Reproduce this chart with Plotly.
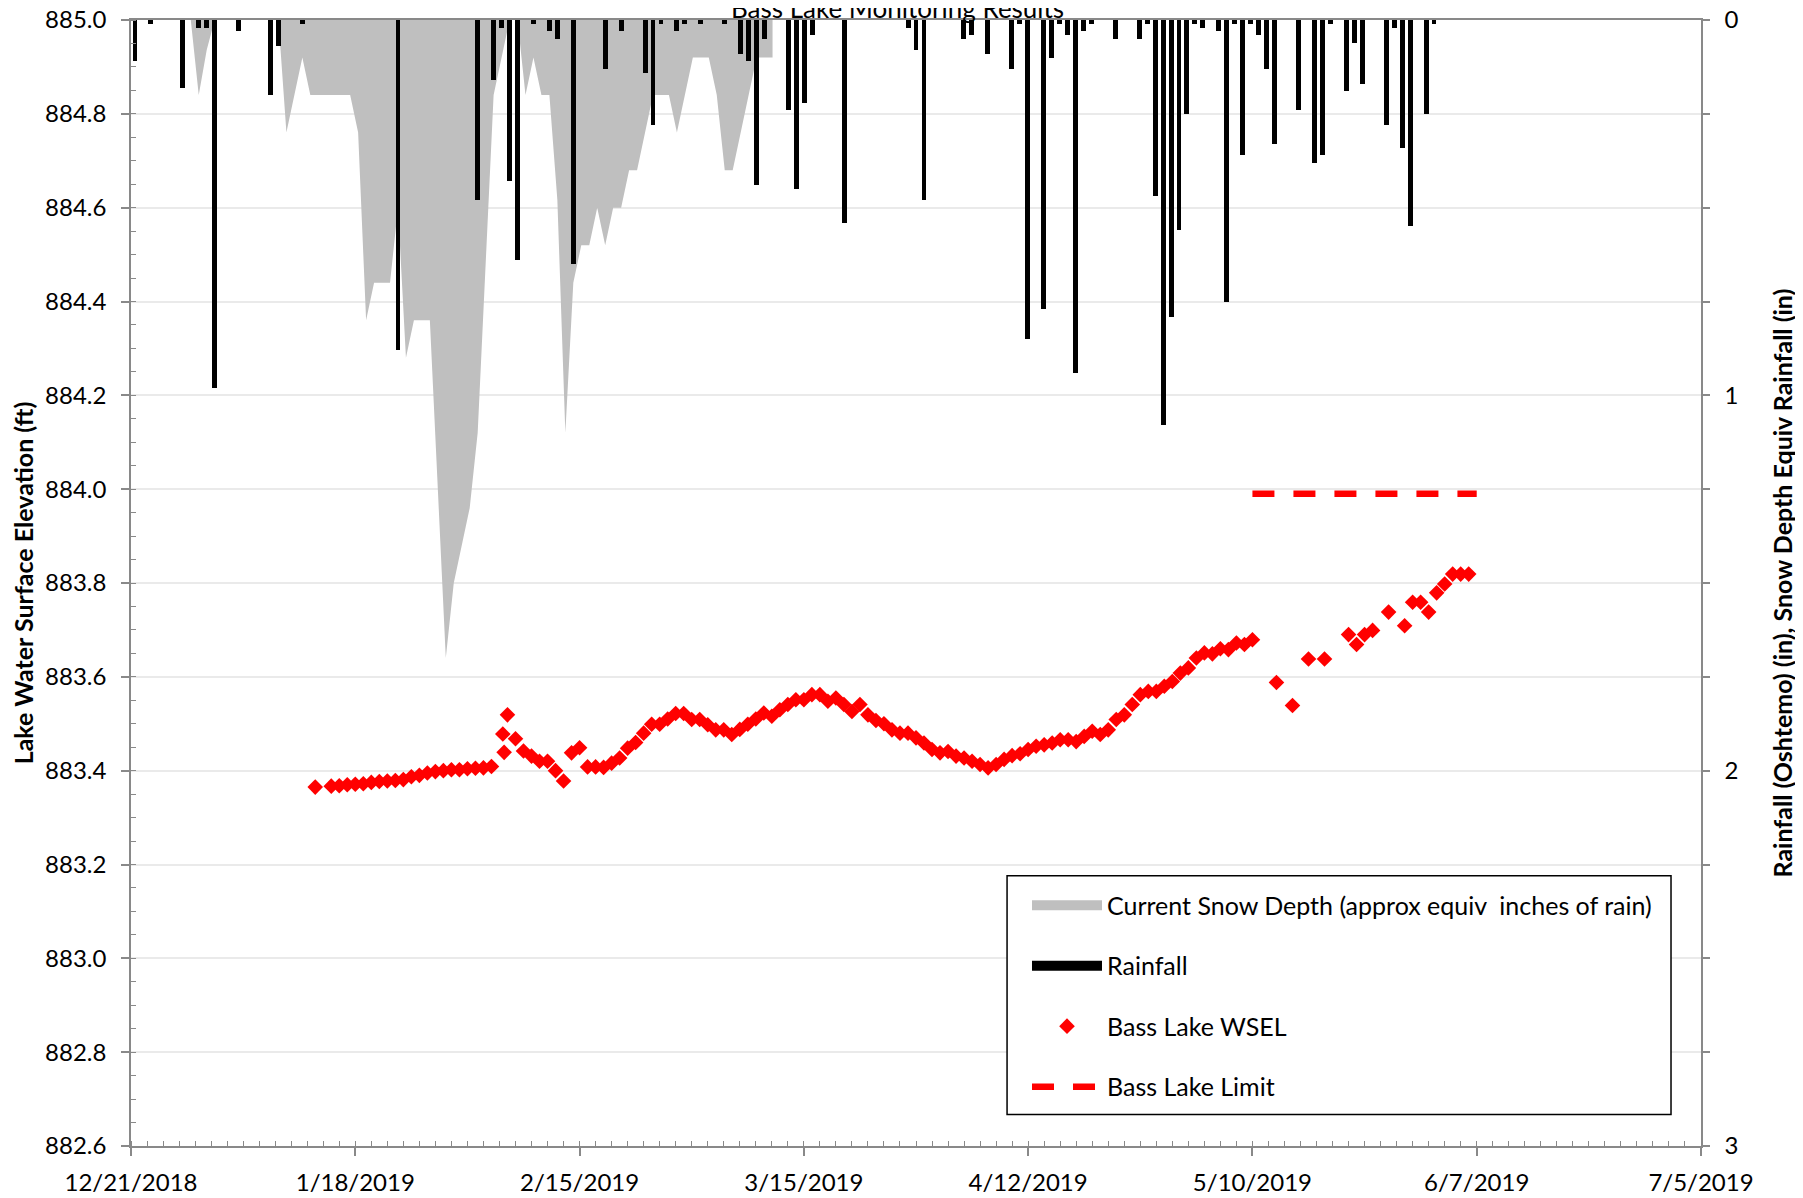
import plotly.graph_objects as go

FONT = "Lato"
AXIS_GREY = "#898989"

# Bass Lake water surface elevation (ft)
wsel_dates = [
    "2019-01-13", "2019-01-15", "2019-01-16", "2019-01-17", "2019-01-18", "2019-01-19", "2019-01-20", "2019-01-21",
    "2019-01-22", "2019-01-23", "2019-01-24", "2019-01-25", "2019-01-26", "2019-01-27", "2019-01-28", "2019-01-29",
    "2019-01-30", "2019-01-31", "2019-02-01", "2019-02-02", "2019-02-03", "2019-02-04",
    "2019-02-05 10:00", "2019-02-05 14:00", "2019-02-06", "2019-02-07",
    "2019-02-08", "2019-02-09", "2019-02-10", "2019-02-11", "2019-02-12", "2019-02-13", "2019-02-14", "2019-02-15",
    "2019-02-16", "2019-02-17", "2019-02-18", "2019-02-19", "2019-02-20", "2019-02-21", "2019-02-22", "2019-02-23",
    "2019-02-24", "2019-02-25", "2019-02-26", "2019-02-27", "2019-02-28",
    "2019-03-01", "2019-03-02", "2019-03-03", "2019-03-04", "2019-03-05", "2019-03-06", "2019-03-07", "2019-03-08",
    "2019-03-09", "2019-03-10", "2019-03-11", "2019-03-12", "2019-03-13", "2019-03-14", "2019-03-15", "2019-03-16",
    "2019-03-17", "2019-03-18", "2019-03-19", "2019-03-20", "2019-03-21", "2019-03-22", "2019-03-23", "2019-03-24",
    "2019-03-25", "2019-03-26", "2019-03-27", "2019-03-28", "2019-03-29", "2019-03-30", "2019-03-31",
    "2019-04-01", "2019-04-02", "2019-04-03", "2019-04-04", "2019-04-05", "2019-04-06", "2019-04-07", "2019-04-08",
    "2019-04-09", "2019-04-10", "2019-04-11", "2019-04-12", "2019-04-13", "2019-04-14", "2019-04-15", "2019-04-16",
    "2019-04-17", "2019-04-18", "2019-04-19", "2019-04-20", "2019-04-21", "2019-04-22", "2019-04-23", "2019-04-24",
    "2019-04-25", "2019-04-26", "2019-04-27", "2019-04-28", "2019-04-29", "2019-04-30",
    "2019-05-01", "2019-05-02", "2019-05-03", "2019-05-04", "2019-05-05", "2019-05-06", "2019-05-07", "2019-05-08",
    "2019-05-09", "2019-05-10", "2019-05-13", "2019-05-15", "2019-05-17", "2019-05-19", "2019-05-22", "2019-05-23",
    "2019-05-24", "2019-05-25", "2019-05-27", "2019-05-29", "2019-05-30", "2019-05-31", "2019-06-01", "2019-06-02",
    "2019-06-03", "2019-06-04", "2019-06-05", "2019-06-06",
]
wsel_elev = [
    883.365, 883.367, 883.368, 883.370, 883.371, 883.372, 883.375, 883.377,
    883.378, 883.379, 883.381, 883.387, 883.390, 883.395, 883.398, 883.400,
    883.402, 883.402, 883.404, 883.405, 883.406, 883.409,
    883.478, 883.439, 883.519, 883.468,
    883.442, 883.431, 883.420, 883.420, 883.400, 883.378, 883.438, 883.449,
    883.408, 883.408, 883.407, 883.416, 883.427, 883.448, 883.460, 883.480,
    883.499, 883.499, 883.510, 883.522, 883.522,
    883.509, 883.509, 883.498, 883.487, 883.487, 883.477, 883.488, 883.499,
    883.510, 883.523, 883.516, 883.530, 883.541, 883.551, 883.551, 883.562,
    883.562, 883.548, 883.555, 883.541, 883.526, 883.541, 883.519, 883.507,
    883.500, 883.487, 883.480, 883.480, 883.470, 883.459, 883.445,
    883.438, 883.441, 883.431, 883.427, 883.420, 883.413, 883.406, 883.413,
    883.424, 883.432, 883.436, 883.445, 883.452, 883.455, 883.459, 883.466,
    883.466, 883.462, 883.473, 883.484, 883.477, 883.487, 883.509, 883.519,
    883.541, 883.562, 883.569, 883.569, 883.580, 883.590,
    883.608, 883.619, 883.640, 883.651, 883.649, 883.660, 883.658, 883.672,
    883.669, 883.679, 883.588, 883.539, 883.638, 883.638, 883.690, 883.669,
    883.690, 883.699, 883.738, 883.709, 883.759, 883.759, 883.738, 883.779,
    883.798, 883.819, 883.819, 883.819,
]

# daily rainfall, Oshtemo (in)
rain_dates = [
    "2018-12-21", "2018-12-23", "2018-12-27", "2018-12-29", "2018-12-30", "2018-12-31", "2019-01-03", "2019-01-07",
    "2019-01-08", "2019-01-11", "2019-01-23", "2019-02-02", "2019-02-04", "2019-02-05", "2019-02-06", "2019-02-07",
    "2019-02-09", "2019-02-11", "2019-02-12", "2019-02-14", "2019-02-18", "2019-02-20", "2019-02-23", "2019-02-24",
    "2019-02-25", "2019-02-27", "2019-02-28", "2019-03-02", "2019-03-05", "2019-03-07", "2019-03-08", "2019-03-09",
    "2019-03-10", "2019-03-13", "2019-03-14", "2019-03-15", "2019-03-16", "2019-03-20", "2019-03-28", "2019-03-29",
    "2019-03-30", "2019-04-04", "2019-04-05", "2019-04-07", "2019-04-10", "2019-04-11", "2019-04-12", "2019-04-14",
    "2019-04-15", "2019-04-16", "2019-04-17", "2019-04-18", "2019-04-19", "2019-04-20", "2019-04-23", "2019-04-26",
    "2019-04-27", "2019-04-28", "2019-04-29", "2019-04-30", "2019-05-01", "2019-05-02", "2019-05-03", "2019-05-04",
    "2019-05-06", "2019-05-07", "2019-05-08", "2019-05-09", "2019-05-10", "2019-05-11", "2019-05-12", "2019-05-13",
    "2019-05-16", "2019-05-18", "2019-05-19", "2019-05-20", "2019-05-22", "2019-05-23", "2019-05-24", "2019-05-27",
    "2019-05-28", "2019-05-29", "2019-05-30", "2019-06-01", "2019-06-02",
]
rain_in = [
    0.11, 0.01, 0.18, 0.02, 0.02, 0.98, 0.03, 0.20,
    0.07, 0.01, 0.88, 0.48, 0.16, 0.02, 0.43, 0.64,
    0.01, 0.03, 0.05, 0.65, 0.13, 0.03, 0.14, 0.28,
    0.01, 0.03, 0.01, 0.01, 0.01, 0.09, 0.11, 0.44,
    0.05, 0.24, 0.45, 0.22, 0.04, 0.54, 0.02, 0.08,
    0.48, 0.05, 0.04, 0.09, 0.13, 0.01, 0.85, 0.77,
    0.10, 0.01, 0.04, 0.94, 0.03, 0.01, 0.05, 0.05,
    0.01, 0.47, 1.08, 0.79, 0.56, 0.25, 0.01, 0.02,
    0.03, 0.75, 0.01, 0.36, 0.01, 0.04, 0.13, 0.33,
    0.24, 0.38, 0.36, 0.01, 0.19, 0.06, 0.17, 0.28,
    0.02, 0.34, 0.55, 0.25, 0.01,
]

# snow depth as equivalent rain (in)
snow_dates = [
    "2018-12-28", "2018-12-29", "2018-12-30", "2018-12-31", "2019-01-08", "2019-01-09", "2019-01-11", "2019-01-12",
    "2019-01-17", "2019-01-18", "2019-01-19", "2019-01-20", "2019-01-22", "2019-01-23", "2019-01-24", "2019-01-25",
    "2019-01-27", "2019-01-28", "2019-01-29", "2019-01-30", "2019-02-01", "2019-02-02", "2019-02-04", "2019-02-05",
    "2019-02-06", "2019-02-07", "2019-02-08", "2019-02-09", "2019-02-10", "2019-02-11", "2019-02-12", "2019-02-13",
    "2019-02-14", "2019-02-15", "2019-02-16", "2019-02-17", "2019-02-18", "2019-02-19", "2019-02-20", "2019-02-21",
    "2019-02-22", "2019-02-24", "2019-02-26", "2019-02-27", "2019-03-01", "2019-03-03", "2019-03-04", "2019-03-05",
    "2019-03-06", "2019-03-09", "2019-03-11",
]
snow_in = [
    0, 0.20, 0.08, 0, 0, 0.30, 0.10, 0.20,
    0.20, 0.30, 0.80, 0.70, 0.70, 0.50, 0.90, 0.80,
    0.80, 1.25, 1.70, 1.50, 1.30, 1.10, 0.20, 0.10,
    0, 0, 0.20, 0.10, 0.20, 0.20, 0.48, 1.10,
    0.70, 0.60, 0.60, 0.50, 0.60, 0.50, 0.50, 0.40,
    0.40, 0.20, 0.20, 0.30, 0.10, 0.10, 0.20, 0.40,
    0.40, 0.10, 0.10,
]

limit_dates = ["2019-05-10", "2019-06-07"]
limit_elev = [883.99, 883.99]

x_ticks = ["2018-12-21", "2019-01-18", "2019-02-15", "2019-03-15",
           "2019-04-12", "2019-05-10", "2019-06-07", "2019-07-05"]
x_tick_labels = ["12/21/2018", "1/18/2019", "2/15/2019", "3/15/2019",
                 "4/12/2019", "5/10/2019", "6/7/2019", "7/5/2019"]

DAY_MS = 24 * 3600 * 1000
SLOT_RANGE = ["2018-12-20 12:00", "2019-07-05 12:00"]

fig = go.Figure()

# snow (x2/y2) and rain (x3/y3) sit on day-slot axes like the Excel column axis;
# separate overlays keep the bars drawn above the snow area
fig.add_trace(go.Scatter(
    x=snow_dates, y=snow_in, xaxis="x2", yaxis="y2",
    mode="lines", line=dict(width=0, color="#BFBFBF"),
    fill="tozeroy", fillcolor="#BFBFBF", showlegend=False, hoverinfo="skip",
    legendgroup="snow",
))
fig.add_trace(go.Bar(
    x=rain_dates, y=rain_in, xaxis="x3", yaxis="y3",
    width=0.62 * DAY_MS, marker=dict(color="black", line=dict(width=0)),
    showlegend=False, legendgroup="rain",
))

# legend proxies for the area and bars
fig.add_trace(go.Scatter(
    x=[None], y=[None], mode="lines", line=dict(color="#BFBFBF", width=14),
    name="Current Snow Depth (approx equiv  inches of rain)", legendgroup="snow",
))
fig.add_trace(go.Scatter(
    x=[None], y=[None], mode="lines", line=dict(color="black", width=14),
    name="Rainfall", legendgroup="rain",
))

fig.add_trace(go.Scatter(
    x=wsel_dates, y=wsel_elev, mode="markers",
    marker=dict(symbol="diamond", size=12, color="#FF0000", line=dict(width=0)),
    name="Bass Lake WSEL", legendgroup="wsel",
))
fig.add_trace(go.Scatter(
    x=limit_dates, y=limit_elev, mode="lines",
    line=dict(color="#FF0000", width=6.5, dash="22px,19px"),
    name="Bass Lake Limit", legendgroup="limit",
))

fig.update_layout(
    width=1803,
    height=1198,
    margin=dict(l=123, r=110, t=12, b=59.5),
    paper_bgcolor="white",
    plot_bgcolor="white",
    font=dict(family=FONT, size=24, color="black"),
    xaxis=dict(
        type="date",
        range=["2018-12-21", "2019-07-05"],
        tickvals=x_ticks,
        ticktext=x_tick_labels,
        ticks="outside", ticklen=8, tickwidth=1.5, tickcolor=AXIS_GREY,
        showline=True, linecolor=AXIS_GREY, linewidth=1.5, mirror=True,
        showgrid=False, zeroline=False,
        minor=dict(tick0="2018-12-21", dtick=2 * DAY_MS, ticks="inside", ticklen=5,
                   tickwidth=1, tickcolor=AXIS_GREY, showgrid=False),
        tickfont=dict(size=24),
        ticklabelstandoff=6,
        ticklabeloverflow="allow",
        automargin=False,
    ),
    xaxis2=dict(type="date", overlaying="x", anchor="y2", range=SLOT_RANGE, visible=False),
    xaxis3=dict(type="date", overlaying="x", anchor="y3", range=SLOT_RANGE, visible=False),
    yaxis=dict(
        range=[882.6, 885.0],
        tick0=882.6, dtick=0.2, tickformat=".1f",
        ticks="outside", ticklen=8, tickwidth=1.5, tickcolor=AXIS_GREY,
        showline=True, linecolor=AXIS_GREY, linewidth=1.5,
        gridcolor="#EAEAEA", gridwidth=1.5, zeroline=False,
        minor=dict(dtick=0.05, ticks="inside", ticklen=5, tickwidth=1, tickcolor=AXIS_GREY, showgrid=False),
        tickfont=dict(size=24),
        ticklabelstandoff=10,
        ticklabeloverflow="allow",
        title=dict(text="<b>Lake Water Surface Elevation (ft)</b>", font=dict(size=25), standoff=9),
        automargin=False,
    ),
    yaxis2=dict(
        overlaying="y",
        side="right",
        anchor="x2",
        range=[3, 0],
        tick0=0, dtick=1,
        ticks="outside", ticklen=7, tickwidth=1.5, tickcolor=AXIS_GREY,
        showline=True, linecolor=AXIS_GREY, linewidth=1.5,
        showgrid=False, zeroline=False,
        minor=dict(dtick=0.25, ticks="outside", ticklen=7, tickwidth=1.5, tickcolor=AXIS_GREY),
        tickfont=dict(size=24),
        ticklabelstandoff=10,
        ticklabeloverflow="allow",
        title=dict(text="<b>Rainfall (Oshtemo) (in), Snow Depth Equiv Rainfall (in)</b>",
                   font=dict(size=25), standoff=37),
        automargin=False,
    ),
    yaxis3=dict(overlaying="y", anchor="x3", range=[3, 0], visible=False),
    legend=dict(
        x=0.5707, y=0.2341, xanchor="left", yanchor="top",
        bgcolor="rgba(0,0,0,0)", borderwidth=0,
        font=dict(size=25),
        traceorder="grouped",
        tracegroupgap=25,
        itemwidth=70,
    ),
    bargap=0,
)

# legend frame, sized like the source
fig.add_shape(
    type="rect", xref="paper", yref="paper",
    x0=0.558, x1=0.9809, y0=0.0280, y1=0.2401,
    line=dict(color="black", width=1.5), fillcolor="white", layer="above",
)

# title sits half outside the canvas, as in the source image
fig.add_annotation(
    text="Bass Lake Monitoring Results",
    xref="paper", yref="paper", x=0.4879, y=1.0107,
    xanchor="center", yanchor="middle", showarrow=False,
    font=dict(family=FONT, size=26, color="black"),
)

fig.write_html("out.html")
